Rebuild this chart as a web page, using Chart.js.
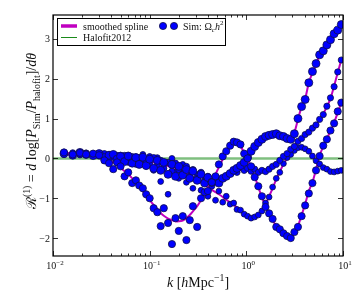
<!DOCTYPE html>
<html>
<head>
<meta charset="utf-8">
<script src="https://cdn.jsdelivr.net/npm/chart.js@4.4.1/dist/chart.umd.min.js"></script>
<style>
  html, body { margin: 0; padding: 0; background: #fff; }
  #wrap { width: 354px; height: 295px; }
</style>
</head>
<body>
<div id="wrap"><canvas id="c" width="354" height="295"></canvas></div>
<script>
// simulation k bins [h/Mpc]
const kBins = [0.013,0.016,0.019,0.022,0.026,0.03,0.034,0.038,0.042,0.046,
  0.05,0.055,0.06,0.066,0.072,0.078,0.085,0.092,0.1,0.11,
  0.12,0.13,0.14,0.155,0.17,0.185,0.2,0.22,0.24,0.26,
  0.28,0.31,0.34,0.37,0.4,0.44,0.48,0.52,0.57,0.62,
  0.68,0.74,0.8,0.87,0.95,1.03,1.12,1.22,1.33,1.45,
  1.58,1.72,1.87,2.04,2.22,2.42,2.64,2.88,3.14,3.42,
  3.73,4.06,4.43,4.83,5.26,5.73,6.25,6.81,7.42,8.09,
  8.82,9.6];

// smoothed splines, one per curve
const splineA = [0.12,0.12,0.1,0.08,0.06,0.03,0,-0.05,-0.1,-0.17,
  -0.24,-0.32,-0.4,-0.5,-0.6,-0.7,-0.82,-0.93,-1.05,-1.17,
  -1.27,-1.37,-1.44,-1.51,-1.55,-1.58,-1.58,-1.56,-1.5,-1.42,
  -1.33,-1.2,-1.05,-0.9,-0.75,-0.58,-0.4,-0.22,-0.02,0.15,
  0.28,0.37,0.38,0.3,0.15,0,-0.22,-0.45,-0.72,-0.98,
  -1.2,-1.42,-1.55,-1.7,-1.8,-1.9,-1.96,-1.98,-1.88,-1.7,
  -1.42,-1.15,-0.82,-0.6,-0.28,0.08,0.3,0.5,0.68,0.9,
  1.15,1.4];
const splineB = [0.1,0.1,0.1,0.1,0.09,0.08,0.07,0.05,0.04,0.03,
  0.02,0.01,0,-0.01,-0.02,-0.03,-0.05,-0.06,-0.08,-0.1,
  -0.12,-0.14,-0.16,-0.19,-0.21,-0.24,-0.27,-0.3,-0.33,-0.36,
  -0.38,-0.42,-0.46,-0.5,-0.53,-0.56,-0.58,-0.57,-0.53,-0.46,
  -0.4,-0.33,-0.27,-0.2,-0.1,0.02,0.16,0.28,0.39,0.47,
  0.53,0.57,0.59,0.6,0.58,0.54,0.5,0.5,0.65,0.98,
  1.3,1.5,1.9,2.15,2.38,2.58,2.7,2.86,2.97,3.12,
  3.22,3.33];
const splineC = [0.14,0.13,0.12,0.11,0.1,0.09,0.08,0.07,0.06,0.05,
  0.04,0.03,0.02,0.01,0,-0.01,-0.02,-0.03,-0.04,-0.05,
  -0.06,-0.08,-0.1,-0.12,-0.15,-0.19,-0.24,-0.3,-0.35,-0.41,
  -0.47,-0.54,-0.6,-0.67,-0.72,-0.79,-0.85,-0.9,-0.97,-1.04,
  -1.1,-1.17,-1.23,-1.3,-1.38,-1.43,-1.47,-1.48,-1.44,-1.3,
  -1.15,-0.95,-0.75,-0.52,-0.33,-0.15,0,0.1,0.2,0.26,
  0.28,0.25,0.17,0.07,-0.05,-0.15,-0.22,-0.28,-0.32,-0.34,
  -0.33,-0.3];
const splineD = [0.11,0.11,0.11,0.1,0.1,0.09,0.08,0.07,0.06,0.05,
  0.04,0.03,0.02,0.01,0,-0.01,-0.02,-0.04,-0.06,-0.07,
  -0.09,-0.1,-0.12,-0.14,-0.16,-0.18,-0.21,-0.24,-0.27,-0.3,
  -0.33,-0.38,-0.42,-0.47,-0.5,-0.54,-0.57,-0.57,-0.54,-0.48,
  -0.42,-0.36,-0.32,-0.29,-0.27,-0.27,-0.28,-0.3,-0.32,-0.33,
  -0.32,-0.28,-0.22,-0.14,-0.06,0.04,0.13,0.22,0.32,0.42,
  0.51,0.59,0.67,0.75,0.85,0.97,1.12,1.3,1.5,1.82,
  2.15,2.48];

// measured simulation points
const simA = [0.15,0.1,0.14,0.1,0.12,0.08,-0.05,-0.12,-0.27,-0.1,
  -0.2,-0.45,-0.35,-0.62,-0.55,-0.68,-0.75,-0.9,-1.0,-1.25,
  -1.35,-1.7,-1.25,-1.62,-2.15,-1.5,-1.82,-1.45,-2.05,-1.55,
  -1.2,-1.72,-1.0,-0.85,-0.82,-0.6,-0.45,-0.15,0.05,0.18,
  0.32,0.42,0.4,0.35,0.12,0,-0.2,-0.47,-0.7,-0.95,
  -1.22,-1.38,-1.52,-1.72,-1.78,-1.88,-1.95,-2.0,-1.85,-1.72,
  -1.45,-1.18,-0.88,-0.62,-0.3,0.06,0.32,0.48,0.7,0.88,
  1.18,1.4];
const simB = [0.12,0.08,0.15,0.1,0.07,0.12,0.02,0.08,0.1,-0.02,
  0.05,-0.08,0.06,-0.12,0.02,-0.15,0.03,-0.18,-0.02,-0.25,
  -0.05,-0.3,-0.1,-0.4,-0.15,-0.45,-0.2,-0.42,-0.28,-0.5,
  -0.32,-0.55,-0.4,-0.62,-0.48,-0.6,-0.55,-0.62,-0.5,-0.45,
  -0.38,-0.3,-0.25,-0.18,-0.1,0.03,0.18,0.3,0.4,0.48,
  0.55,0.58,0.6,0.62,0.57,0.55,0.5,0.48,0.62,1.0,
  1.3,1.48,1.9,2.18,2.38,2.6,2.7,2.85,2.98,3.13,
  3.22,3.36];
const simC = [0.16,0.12,0.1,0.14,0.08,0.12,0.05,0.1,0.02,0.08,
  -0.05,0.08,-0.1,0.05,-0.15,0.02,0.1,-0.2,0.05,-0.3,
  0.02,-0.58,-0.1,-0.9,0,-0.35,-0.5,-0.15,-0.6,-0.3,
  -0.75,-0.4,-0.8,-0.55,-0.95,-0.7,-1.05,-0.82,-1.1,-0.95,
  -1.15,-1.12,-1.28,-1.3,-1.4,-1.45,-1.5,-1.47,-1.42,-1.32,
  -1.12,-0.97,-0.72,-0.5,-0.35,-0.13,0.02,0.1,0.2,0.27,
  0.28,0.24,0.18,0.06,-0.06,-0.14,-0.23,-0.27,-0.33,-0.34,
  -0.32,-0.3];
const simD = [0.1,0.14,0.09,0.13,0.11,0.06,0.12,0.04,0.1,0,
  0.08,-0.05,0.07,-0.08,0.04,-0.12,0,-0.1,-0.15,0.02,
  -0.2,-0.05,-0.25,-0.1,-0.32,-0.12,-0.28,-0.38,-0.2,-0.45,
  -0.28,-0.5,-0.35,-0.58,-0.45,-0.62,-0.52,-0.6,-0.5,-0.45,
  -0.38,-0.3,-0.35,-0.22,-0.3,-0.25,-0.32,-0.27,-0.35,-0.3,
  -0.33,-0.27,-0.2,-0.15,-0.05,0.05,0.12,0.23,0.3,0.43,
  0.5,0.6,0.66,0.76,0.84,0.98,1.1,1.31,1.52,1.8,
  2.17,2.47];

const halofitLevel = 0;
const xTicks = [0.01, 0.1, 1, 10];
const xTickExp = ['\u22122', '\u22121', '0', '1'];
const yTicks = [-2, -1, 0, 1, 2, 3];

const SERIF = '"Liberation Serif", "DejaVu Serif", serif';
const MAGENTA = '#c000c0';

function pts(vals) {
  return kBins.map((k, i) => ({ x: k, y: vals[i] }));
}

function splineSet(vals) {
  return {
    data: pts(vals), showLine: true, pointRadius: 0, borderColor: MAGENTA,
    borderWidth: 2, tension: 0.3, order: 2
  };
}

function simSet(vals, r) {
  return {
    data: pts(vals), showLine: false, pointRadius: r, pointBackgroundColor: '#0000ff',
    pointBorderColor: '#10104a', pointBorderWidth: 0.8, order: 1
  };
}

const datasets = [
  simSet(simA, 3.6), simSet(simB, 4), simSet(simD, 3.1), simSet(simC, 2.9),
  splineSet(splineA), splineSet(splineB), splineSet(splineC), splineSet(splineD),
  {
    data: [{ x: 0.01, y: halofitLevel }, { x: 10, y: halofitLevel }], showLine: true,
    pointRadius: 0, borderColor: 'rgba(0,128,0,0.5)', borderWidth: 2.5, order: 3
  }
];

// text made of runs (for sub/superscripts)
function fontOf(p, base) {
  return (p.i ? 'italic ' : '') + (base * (p.s || 1)).toFixed(1) + 'px ' + SERIF;
}
function drawRuns(ctx, parts, base, x, y, align) {
  let w = 0;
  for (const p of parts) { ctx.font = fontOf(p, base); p.w = ctx.measureText(p.t).width; w += p.w; }
  let cx = align === 'center' ? x - w / 2 : align === 'right' ? x - w : x;
  ctx.textAlign = 'left';
  ctx.textBaseline = 'alphabetic';
  for (const p of parts) {
    ctx.font = fontOf(p, base);
    ctx.fillText(p.t, cx, y + (p.dy || 0) * base);
    cx += p.w;
  }
  return w;
}
const SUP = { s: 0.7, dy: -0.42 };
const SUB = { s: 0.7, dy: 0.25 };

const overlay = {
  id: 'overlay',
  afterDraw(chart) {
    const ctx = chart.ctx;
    const a = chart.chartArea;
    const xs = chart.scales.x, ys = chart.scales.y;
    ctx.save();
    ctx.strokeStyle = '#000';
    ctx.fillStyle = '#111';
    ctx.lineWidth = 1.2;
    ctx.strokeRect(a.left, a.top, a.right - a.left, a.bottom - a.top);

    // ticks, inward on all sides
    ctx.lineWidth = 0.8;
    ctx.beginPath();
    xTicks.forEach(t => {
      const px = Math.round(xs.getPixelForValue(t)) + 0.5;
      ctx.moveTo(px, a.bottom); ctx.lineTo(px, a.bottom - 5);
      ctx.moveTo(px, a.top); ctx.lineTo(px, a.top + 5);
      if (t < 10) {
        for (let m = 2; m <= 9; m++) {
          const mx = Math.round(xs.getPixelForValue(t * m)) + 0.5;
          ctx.moveTo(mx, a.bottom); ctx.lineTo(mx, a.bottom - 2.5);
          ctx.moveTo(mx, a.top); ctx.lineTo(mx, a.top + 2.5);
        }
      }
    });
    yTicks.forEach(t => {
      const py = Math.round(ys.getPixelForValue(t)) + 0.5;
      ctx.moveTo(a.left, py); ctx.lineTo(a.left + 5, py);
      ctx.moveTo(a.right, py); ctx.lineTo(a.right - 5, py);
    });
    ctx.stroke();

    // tick labels
    xTicks.forEach((t, i) => {
      const px = xs.getPixelForValue(t);
      drawRuns(ctx, [{ t: '10' }, { t: xTickExp[i], ...SUP }], 10, px + 2, a.bottom + 13, 'center');
    });
    yTicks.forEach(t => {
      const py = ys.getPixelForValue(t);
      const lab = t < 0 ? '\u2212' + Math.abs(t) : String(t);
      drawRuns(ctx, [{ t: lab }], 10, a.left - 3, py + 3.5, 'right');
    });

    // axis titles
    drawRuns(ctx, [{ t: 'k', i: 1 }, { t: ' [' }, { t: 'h', i: 1 }, { t: 'Mpc' }, { t: '\u22121', ...SUP }, { t: ']' }],
      14, 198, 287, 'center');
    ctx.save();
    ctx.translate(36, 131);
    ctx.rotate(-Math.PI / 2);
    drawRuns(ctx, [
      { t: '\u211B' }, { t: '(1)', ...SUP }, { t: ' = ' }, { t: 'd', i: 1 }, { t: ' log[' },
      { t: 'P', i: 1 }, { t: 'Sim', ...SUB }, { t: '/' }, { t: 'P', i: 1 }, { t: 'halofit', ...SUB },
      { t: ']/' }, { t: 'd\u03B8', i: 1 }
    ], 14, 0, 0, 'center');
    ctx.restore();

    // legend
    ctx.fillStyle = '#fff';
    ctx.fillRect(57, 18, 168, 27);
    ctx.lineWidth = 1;
    ctx.strokeStyle = '#000';
    ctx.strokeRect(57.5, 18.5, 168, 27);
    ctx.lineWidth = 3.5;
    ctx.strokeStyle = MAGENTA;
    ctx.beginPath(); ctx.moveTo(61, 26); ctx.lineTo(77, 26); ctx.stroke();
    ctx.lineWidth = 1;
    ctx.strokeStyle = '#1a8a1a';
    ctx.beginPath(); ctx.moveTo(61, 37.5); ctx.lineTo(77, 37.5); ctx.stroke();
    ctx.fillStyle = '#111';
    drawRuns(ctx, [{ t: 'smoothed spline' }], 10, 83, 29.5, 'left');
    drawRuns(ctx, [{ t: 'Halofit2012' }], 10, 83, 41, 'left');
    [163, 174].forEach(cx => {
      ctx.beginPath();
      ctx.arc(cx, 26, 3.6, 0, Math.PI * 2);
      ctx.fillStyle = '#0000ff'; ctx.fill();
      ctx.lineWidth = 0.8; ctx.strokeStyle = '#10104a'; ctx.stroke();
    });
    ctx.fillStyle = '#111';
    drawRuns(ctx, [{ t: 'Sim: \u03A9' }, { t: 'c', i: 1, ...SUB }, { t: 'h', i: 1 }, { t: '2', ...SUP }], 10, 183, 29.5, 'left');
    ctx.restore();
  }
};

new Chart(document.getElementById('c'), {
  type: 'scatter',
  data: { datasets },
  options: {
    responsive: false,
    animation: false,
    layout: { padding: { left: 53, right: 11, top: 15, bottom: 39 } },
    scales: {
      x: { type: 'logarithmic', min: 0.01, max: 10, display: false },
      y: { type: 'linear', min: -2.45, max: 3.6, display: false }
    },
    plugins: { legend: { display: false }, tooltip: { enabled: false } }
  },
  plugins: [overlay]
});
</script>
</body>
</html>
